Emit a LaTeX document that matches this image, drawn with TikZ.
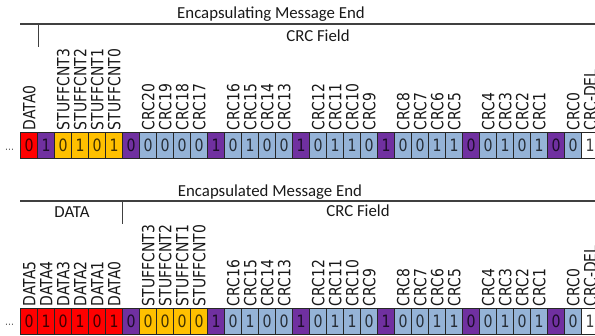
\documentclass[tikz,border=0pt]{standalone}
\usepackage{fontspec}
\setmainfont{Carlito}
\newfontfamily\lblfont[FakeStretch=0.83]{DejaVu Sans}
\definecolor{cred}{HTML}{FF0000}
\definecolor{cpurple}{HTML}{7030A0}
\definecolor{cyellow}{HTML}{FFC000}
\definecolor{cblue}{HTML}{95B3D7}
\definecolor{cwhite}{HTML}{FFFFFF}
\begin{document}
\begin{tikzpicture}[x=1pt,y=-1pt,
  cell/.style={draw=black!85, line width=0.7pt, minimum width=17pt, minimum height=25.5pt,
    inner sep=0pt, outer sep=0pt, anchor=north west,
    font=\lblfont\fontsize{17}{17}\selectfont, text opacity=0.75},
  vlabel/.style={rotate=90, anchor=west, inner sep=0pt,
    font=\lblfont\fontsize{16.8}{16.8}\selectfont, text height=12.2pt, text depth=0pt, text=black!90},
  hdr/.style={font=\fontsize{16.8}{17}\selectfont, anchor=base, inner sep=0pt, text=black!90},
  bar/.style={draw=black!75, line width=1.1pt},
  dots/.style={font=\lblfont\fontsize{11}{11}\selectfont, text=black!65, anchor=base west, inner sep=0pt}]
\useasboundingbox (0,0) rectangle (595,336);
\clip (0,0) rectangle (595,336);

% ---------- top block ----------
\node[hdr] (h1) at (271,19) {Encapsulating Message End};
\coordinate (l1a) at (20,24);
\coordinate (l1b) at (595,24);
\coordinate (k1a) at (38.3,24);
\coordinate (k1b) at (38.3,47);
\draw[bar] (l1a) -- (l1b);
\draw[bar] (k1a) -- (k1b);
\node[hdr] (c1) at (318,42) {CRC Field};

\foreach \i/\c/\v in {0/cred/0, 1/cpurple/1, 2/cyellow/0, 3/cyellow/1, 4/cyellow/0, 5/cyellow/1,
  6/cpurple/0, 7/cblue/0, 8/cblue/0, 9/cblue/0, 10/cblue/0, 11/cpurple/1,
  12/cblue/0, 13/cblue/1, 14/cblue/0, 15/cblue/0, 16/cpurple/1,
  17/cblue/0, 18/cblue/1, 19/cblue/1, 20/cblue/0, 21/cpurple/1,
  22/cblue/0, 23/cblue/0, 24/cblue/1, 25/cblue/1, 26/cpurple/0,
  27/cblue/0, 28/cblue/1, 29/cblue/0, 30/cblue/1, 31/cpurple/0,
  32/cblue/0, 33/cwhite/1}
  \node[cell, fill=\c] (t\i) at ({20.7+17*\i},132.5) {\v};

\foreach \i/\t in {0/DATA0, 2/STUFFCNT3, 3/STUFFCNT2, 4/STUFFCNT1, 5/STUFFCNT0,
  7/CRC20, 8/CRC19, 9/CRC18, 10/CRC17,
  12/CRC16, 13/CRC15, 14/CRC14, 15/CRC13,
  17/CRC12, 18/CRC11, 19/CRC10, 20/CRC9,
  22/CRC8, 23/CRC7, 24/CRC6, 25/CRC5,
  27/CRC4, 28/CRC3, 29/CRC2, 30/CRC1,
  32/CRC0, 33/CRC-DEL}
  \node[vlabel] (tl\i) at ({20.7+17*\i+8.5},130.5) {\t};

\node[dots] (td) at (5,151) {...};

% ---------- bottom block ----------
\node[hdr] (h2) at (270,197) {Encapsulated Message End};
\coordinate (l2a) at (20,201);
\coordinate (l2b) at (595,201);
\coordinate (k2a) at (122.7,201);
\coordinate (k2b) at (122.7,224);
\draw[bar] (l2a) -- (l2b);
\draw[bar] (k2a) -- (k2b);
\node[hdr] (d2) at (72,218) {DATA};
\node[hdr] (c2) at (358,217) {CRC Field};

\foreach \i/\c/\v in {0/cred/0, 1/cred/1, 2/cred/0, 3/cred/1, 4/cred/0, 5/cred/1,
  6/cpurple/0, 7/cyellow/0, 8/cyellow/0, 9/cyellow/0, 10/cyellow/0, 11/cpurple/1,
  12/cblue/0, 13/cblue/1, 14/cblue/0, 15/cblue/0, 16/cpurple/1,
  17/cblue/0, 18/cblue/1, 19/cblue/1, 20/cblue/0, 21/cpurple/1,
  22/cblue/0, 23/cblue/0, 24/cblue/1, 25/cblue/1, 26/cpurple/0,
  27/cblue/0, 28/cblue/1, 29/cblue/0, 30/cblue/1, 31/cpurple/0,
  32/cblue/0, 33/cwhite/1}
  \node[cell, fill=\c] (b\i) at ({20.7+17*\i},308.5) {\v};

\foreach \i/\t in {0/DATA5, 1/DATA4, 2/DATA3, 3/DATA2, 4/DATA1, 5/DATA0,
  7/STUFFCNT3, 8/STUFFCNT2, 9/STUFFCNT1, 10/STUFFCNT0,
  12/CRC16, 13/CRC15, 14/CRC14, 15/CRC13,
  17/CRC12, 18/CRC11, 19/CRC10, 20/CRC9,
  22/CRC8, 23/CRC7, 24/CRC6, 25/CRC5,
  27/CRC4, 28/CRC3, 29/CRC2, 30/CRC1,
  32/CRC0, 33/CRC-DEL}
  \node[vlabel] (bl\i) at ({20.7+17*\i+8.5},306.5) {\t};

\node[dots] (bd) at (5,326) {...};
\end{tikzpicture}
\end{document}
